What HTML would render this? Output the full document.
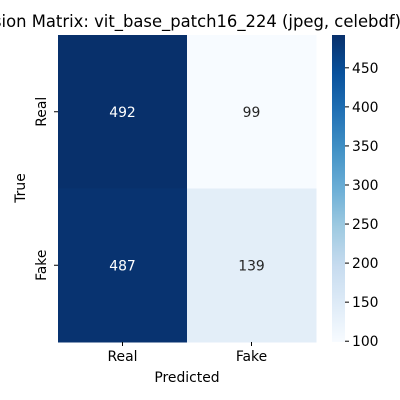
<!DOCTYPE html>
<html><head><meta charset="utf-8"><style>
body{margin:0;background:#fff;overflow:hidden}
svg{display:block;font-family:"DejaVu Sans","Liberation Sans",sans-serif}
</style></head><body>
<svg id="chart" width="400" height="400" viewBox="0 0 400 400">
<defs><linearGradient id="blues" x1="0" y1="1" x2="0" y2="0">
<stop offset="0" stop-color="#f7fbff"/><stop offset="0.125" stop-color="#deebf7"/><stop offset="0.25" stop-color="#c6dbef"/><stop offset="0.375" stop-color="#9ecae1"/><stop offset="0.5" stop-color="#6baed6"/><stop offset="0.625" stop-color="#4292c6"/><stop offset="0.75" stop-color="#2171b5"/><stop offset="0.875" stop-color="#08519c"/><stop offset="1" stop-color="#08306b"/>
</linearGradient></defs>
<text x="173" y="27" font-size="16.4" text-anchor="middle">Confusion Matrix: vit_base_patch16_224 (jpeg, celebdf)</text>
<g id="cells"></g>
<rect x="332" y="35" width="13" height="307" fill="url(#blues)"/>
<g id="cbticks"></g>
<text x="187" y="382" font-size="13.9" text-anchor="middle">Predicted</text>
<text x="25" y="188" font-size="13.9" text-anchor="middle" transform="rotate(-90 25 188)">True</text>
</svg>
<script>
const labels=["Real","Fake"];
const values=[[492,99],[487,139]];
const cbTicks=[100,150,200,250,300,350,400,450];
const vmin=99,vmax=492;
const NS="http://www.w3.org/2000/svg";
const svg=document.getElementById('chart');
const stops=[[0,[247,251,255]],[0.125,[222,235,247]],[0.25,[198,219,239]],[0.375,[158,202,225]],[0.5,[107,174,214]],[0.625,[66,146,198]],[0.75,[33,113,181]],[0.875,[8,81,156]],[1,[8,48,107]]];
function color(v){let t=Math.max(0,Math.min(1,(v-vmin)/(vmax-vmin)));for(let i=1;i<stops.length;i++){if(t<=stops[i][0]){const a=stops[i-1],b=stops[i];const f=(t-a[0])/(b[0]-a[0]);return 'rgb('+a[1].map((c,k)=>Math.round(c+(b[1][k]-c)*f)).join(',')+')';}}return 'rgb(8,48,107)';}
const x0=58,y0=35,cw=129,ch=153.5;
function mk(tag,attrs,txt){const e=document.createElementNS(NS,tag);for(const k in attrs)e.setAttribute(k,attrs[k]);if(txt!==undefined)e.textContent=txt;return e;}
const g=document.getElementById('cells');
values.forEach((row,i)=>row.forEach((v,j)=>{
  const r=mk('rect',{x:x0+j*cw,y:y0+i*ch,width:cw+0.5,height:ch+0.5,fill:color(v)});
  
  
  g.appendChild(r);
  const t=mk('text',{x:x0+j*cw+cw/2,y:y0+i*ch+ch/2+5,'font-size':13.9,'text-anchor':'middle',fill:(v-vmin)/(vmax-vmin)>0.5?'#fff':'#262626'},v);
  
  
  g.appendChild(t);
}));
labels.forEach((l,j)=>{
  const tx=x0+j*cw+cw/2;
  const tk=mk('line',{x1:tx,x2:tx,y1:342,y2:346,stroke:'#000'});
  
  
  svg.appendChild(tk);
  const t=mk('text',{x:tx,y:361,'font-size':13.9,'text-anchor':'middle'},l);
  
  
  svg.appendChild(t);
  const ty=y0+j*ch+ch/2;
  const tk2=mk('line',{x1:54,x2:58,y1:ty,y2:ty,stroke:'#000'});
  
  
  svg.appendChild(tk2);
  const t2=mk('text',{x:46,y:ty,'font-size':13.9,'text-anchor':'middle',transform:'rotate(-90 46 '+ty+')'},l);
  
  
  svg.appendChild(t2);
});
const cb=document.getElementById('cbticks');
cbTicks.forEach(v=>{
  const y=342-(v-vmin)/(vmax-vmin)*307;
  const l=mk('line',{x1:345,x2:349,y1:y,y2:y,stroke:'#000'});
  
  
  cb.appendChild(l);
  const t=mk('text',{x:352,y:y+5,'font-size':13.9},v);
  
  
  cb.appendChild(t);
});
</script>
</body></html>
